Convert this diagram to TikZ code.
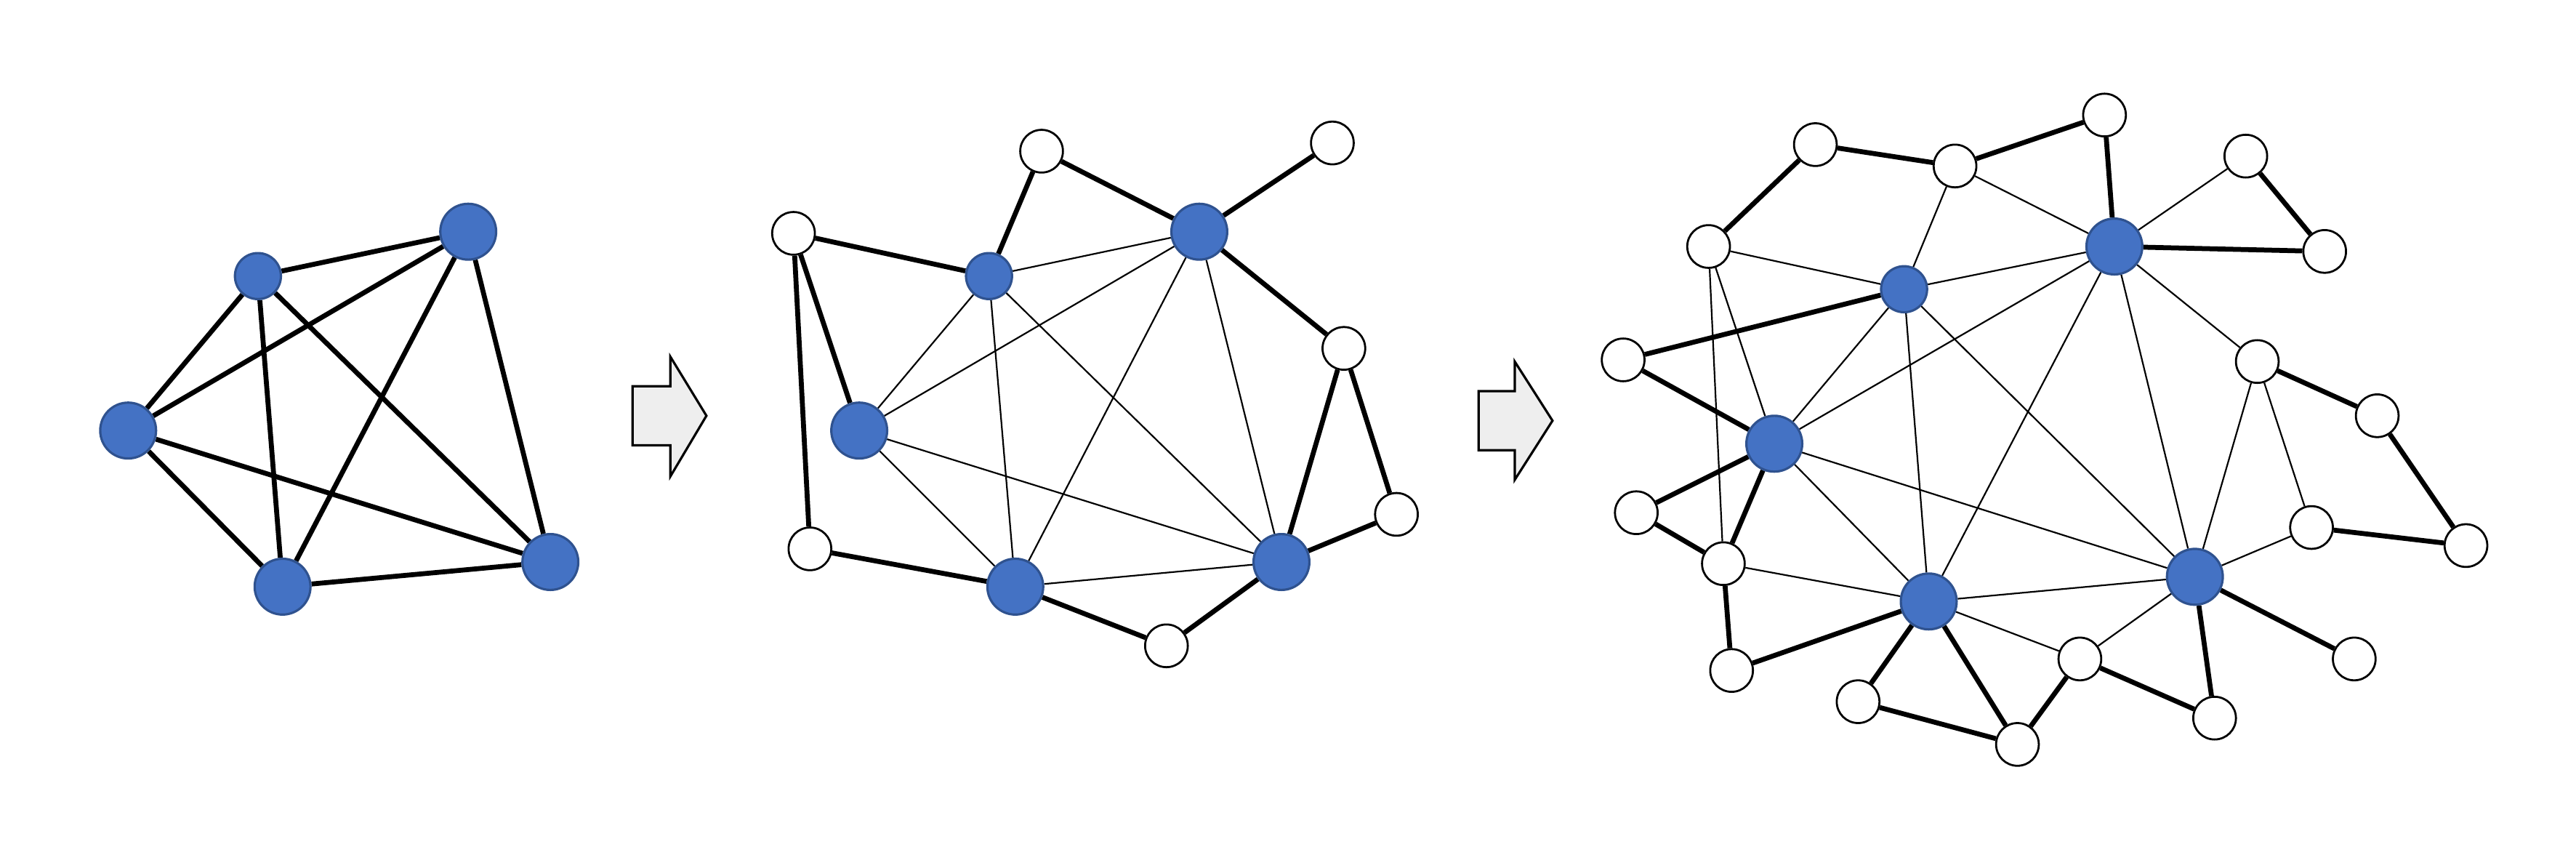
\documentclass[tikz,border=0pt]{standalone}
\usetikzlibrary{backgrounds}
\definecolor{nblue}{HTML}{4472C4}
\definecolor{nborder}{HTML}{2F528F}
\definecolor{agray}{HTML}{EEEEEE}
\begin{document}
\begin{tikzpicture}[x=0.02cm,y=-0.02cm,
  big/.style={circle,fill=nblue,draw=nborder,line width=0.8pt,minimum size=0.68cm,inner sep=0},
  sml/.style={circle,fill=nblue,draw=nborder,line width=0.8pt,minimum size=0.56cm,inner sep=0},
  wht/.style={circle,fill=white,draw=black,line width=0.7pt,minimum size=0.52cm,inner sep=0},
  thk/.style={line width=1.7pt},
  thn/.style={line width=0.55pt},
  barrow/.style={fill=agray,draw=black,line width=0.8pt,line join=miter}]
\useasboundingbox (0,0) rectangle (1568,525);
% panel 1
\node[sml] (A1) at (157,168) {};
\node[big] (A2) at (285,141) {};
\node[big] (A3) at (78,262) {};
\node[big] (A4) at (172,357) {};
\node[big] (A5) at (335,342) {};
% panel 2
\node[sml] (B1) at (602,168) {};
\node[big] (B2) at (730,141) {};
\node[big] (B3) at (523,262) {};
\node[big] (B4) at (618,357) {};
\node[big] (B5) at (780,342) {};
\node[wht] (W1) at (483,142) {};
\node[wht] (W2) at (634,92) {};
\node[wht] (W3) at (811,87) {};
\node[wht] (W4) at (818,212) {};
\node[wht] (W5) at (850,313) {};
\node[wht] (W6) at (493,334) {};
\node[wht] (W7) at (710,393) {};
% panel 3
\node[sml] (C1) at (1159,176) {};
\node[big] (C2) at (1287,150) {};
\node[big] (C3) at (1080,270) {};
\node[big] (C4) at (1174,366) {};
\node[big] (C5) at (1336,351) {};
\node[wht] (D1) at (1105,88) {};
\node[wht] (D2) at (1190,101) {};
\node[wht] (D3) at (1281,70) {};
\node[wht] (D4) at (1367,95) {};
\node[wht] (D5) at (1415,153) {};
\node[wht] (D6) at (1040,150) {};
\node[wht] (D7) at (988,219) {};
\node[wht] (D8) at (1374,220) {};
\node[wht] (D9) at (1447,253) {};
\node[wht] (D10) at (996,312) {};
\node[wht] (D11) at (1049,343) {};
\node[wht] (D12) at (1407,321) {};
\node[wht] (D13) at (1501,332) {};
\node[wht] (D14) at (1054,408) {};
\node[wht] (D15) at (1131,427) {};
\node[wht] (D16) at (1228,453) {};
\node[wht] (D17) at (1266,401) {};
\node[wht] (D18) at (1348,437) {};
\node[wht] (D19) at (1433,401) {};
% arrows
\draw[barrow] (385,235) -- (408,235) -- (408,217) -- (430,253) -- (408,290) -- (408,271) -- (385,271) -- cycle;
\draw[barrow] (900,238) -- (922,238) -- (922,220) -- (945,256) -- (922,292) -- (922,274) -- (900,274) -- cycle;
\begin{scope}[on background layer]
\foreach \a/\b in {A1/A2,A1/A3,A1/A4,A1/A5,A2/A3,A2/A4,A2/A5,A3/A4,A3/A5,A4/A5}
  \draw[thk] (\a) -- (\b);
\foreach \a/\b in {B1/B2,B1/B3,B1/B4,B1/B5,B2/B3,B2/B4,B2/B5,B3/B4,B3/B5,B4/B5}
  \draw[thn] (\a) -- (\b);
\foreach \a/\b in {W1/B1,W1/B3,W1/W6,W2/B1,W2/B2,B2/W3,B2/W4,W4/B5,W4/W5,W5/B5,B5/W7,W7/B4,B4/W6}
  \draw[thk] (\a) -- (\b);
\foreach \a/\b in {C1/C2,C1/C3,C1/C4,C1/C5,C2/C3,C2/C4,C2/C5,C3/C4,C3/C5,C4/C5,
  D6/C1,D6/D11,D6/C3,D2/C1,D2/C2,C2/D4,C2/D8,D8/C5,D8/D12,D12/C5,D11/C4,C4/D17,D17/C5}
  \draw[thn] (\a) -- (\b);
\foreach \a/\b in {D6/D1,D1/D2,D2/D3,D3/C2,D4/D5,C2/D5,D7/C1,D7/C3,D8/D9,D9/D13,D12/D13,
  C3/D10,D10/D11,C3/D11,D11/D14,D14/C4,C4/D15,D15/D16,C4/D16,D16/D17,D17/D18,C5/D18,C5/D19}
  \draw[thk] (\a) -- (\b);
\end{scope}
\end{tikzpicture}
\end{document}
